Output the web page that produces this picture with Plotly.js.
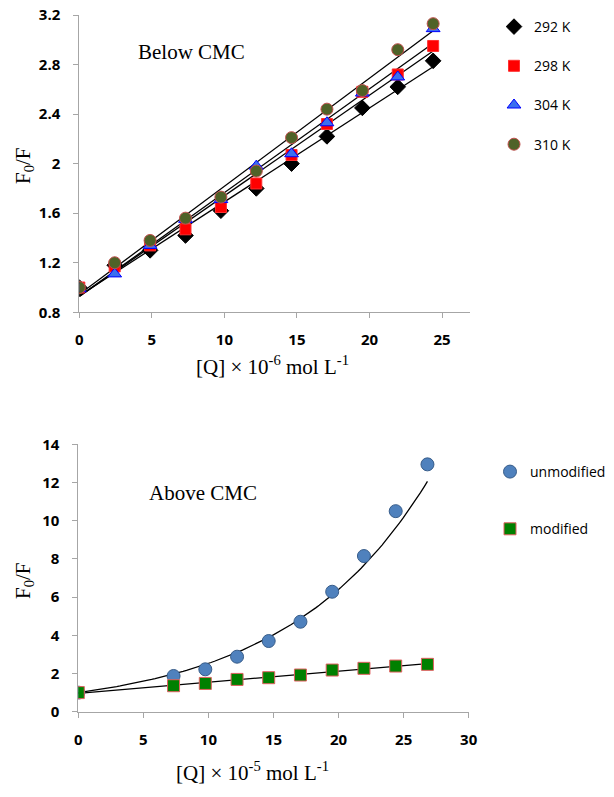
<!DOCTYPE html>
<html><head><meta charset="utf-8">
<script src="https://cdn.plot.ly/plotly-3.0.1.min.js"></script>
<style>body{margin:0;padding:0;background:#fff}#chart{width:614px;height:797px}</style>
</head><body><div id="chart"></div>
<script>
// ---- Top panel: below CMC ----
const xBelow = [0, 2.44, 4.88, 7.32, 9.76, 12.2, 14.63, 17.07, 19.51, 21.95, 24.39];
const y292 = [1.00, 1.18, 1.30, 1.42, 1.62, 1.80, 2.00, 2.22, 2.45, 2.62, 2.83];
const y298 = [1.00, 1.17, 1.34, 1.47, 1.65, 1.84, 2.07, 2.32, 2.58, 2.72, 2.95];
const y304 = [0.99, 1.11, 1.34, 1.55, 1.71, 1.98, 2.08, 2.33, 2.57, 2.70, 3.09];
const y310 = [1.00, 1.20, 1.38, 1.56, 1.73, 1.94, 2.21, 2.44, 2.59, 2.92, 3.13];
const seriesNamesTop = ['292 K', '298 K', '304 K', '310 K'];
const yTickTop = [0.8, 1.2, 1.6, 2, 2.4, 2.8, 3.2];
const xTickTop = [0, 5, 10, 15, 20, 25];

// ---- Bottom panel: above CMC ----
const xAbove = [0, 7.32, 9.76, 12.2, 14.63, 17.07, 19.51, 21.95, 24.39, 26.83];
const yUnmod = [1.00, 1.87, 2.22, 2.88, 3.70, 4.71, 6.28, 8.15, 10.50, 12.95];
const yMod   = [1.00, 1.36, 1.48, 1.69, 1.78, 1.92, 2.18, 2.27, 2.39, 2.48];
const seriesNamesBottom = ['unmodified', 'modified'];
const yTickBottom = [0, 2, 4, 6, 8, 10, 12, 14];
const xTickBottom = [0, 5, 10, 15, 20, 25, 30];
// exponential trendline of the unmodified series as shown in the figure: y = A·exp(B·x)
const unmodTrendA = 1.0;
const unmodTrendB = 0.0928;

function linfit(x, y) {
  const n = x.length; let sx=0, sy=0, sxx=0, sxy=0;
  for (let i=0;i<n;i++){sx+=x[i];sy+=y[i];sxx+=x[i]*x[i];sxy+=x[i]*y[i];}
  const b=(n*sxy-sx*sy)/(n*sxx-sx*sx); const a=(sy-b*sx)/n; return [a,b];
}

const tickFont = {family: 'Open Sans, sans-serif', size: 15, color: '#000', weight: 'bold'};
const legFont = {family: 'Open Sans, sans-serif', size: 14, color: '#000'};
const serif = 'Liberation Serif, Times New Roman, serif';

const topStyles = [
  {symbol: 'diamond', color: '#000000', line: {color: '#000000', width: 1}, size: 12},
  {symbol: 'square', color: '#ff0000', line: {color: '#ff3030', width: 1}, size: 11},
  {symbol: 'triangle-up', color: '#3a6ff0', line: {color: '#0000ff', width: 1}, size: 12},
  {symbol: 'circle', color: '#4f6228', line: {color: '#c0504d', width: 1}, size: 12}
];
const topY = [y292, y298, y304, y310];
const traces = [];
topY.forEach((ys) => {
  const [a,b] = linfit(xBelow, ys);
  const x0 = Math.min(...xBelow), x1 = Math.max(...xBelow);
  traces.push({x:[x0,x1], y:[a+b*x0, a+b*x1], mode:'lines', line:{color:'#000', width:1.3},
    xaxis:'x', yaxis:'y', showlegend:false, hoverinfo:'skip'});
});
topY.forEach((ys, i) => {
  traces.push({x: xBelow, y: ys, mode:'markers', name: seriesNamesTop[i], legend:'legend',
    legendgroup:'t'+i, marker: topStyles[i], xaxis:'x', yaxis:'y'});
});
(function(){
  const xs=[], ys=[]; const x0=Math.min(...xAbove), x1=Math.max(...xAbove);
  for (let k=0;k<=100;k++){const xv=x0+(x1-x0)*k/100; xs.push(xv); ys.push(unmodTrendA*Math.exp(unmodTrendB*xv));}
  traces.push({x:xs, y:ys, mode:'lines', line:{color:'#000', width:1.3}, xaxis:'x2', yaxis:'y2', showlegend:false, hoverinfo:'skip'});
  const [a,b] = linfit(xAbove, yMod);
  traces.push({x:[x0,x1], y:[a+b*x0,a+b*x1], mode:'lines', line:{color:'#000', width:1.3}, xaxis:'x2', yaxis:'y2', showlegend:false, hoverinfo:'skip'});
})();
traces.push({x:xAbove, y:yUnmod, mode:'markers', name:seriesNamesBottom[0], legend:'legend2', legendgroup:'b0',
  marker:{symbol:'circle', size:13, color:'#4f81bd', line:{color:'#385d8a', width:1}}, xaxis:'x2', yaxis:'y2'});
traces.push({x:xAbove, y:yMod, mode:'markers', name:seriesNamesBottom[1], legend:'legend2', legendgroup:'b1',
  marker:{symbol:'square', size:12, color:'#008000', line:{color:'#e06060', width:1}}, xaxis:'x2', yaxis:'y2'});

const axisBase = {showline:true, linecolor:'#a6a6a6', linewidth:1, ticks:'outside', ticklen:5, tickcolor:'#a6a6a6',
  showgrid:false, zeroline:false, tickfont: tickFont, fixedrange:true};

const W=614, H=797;
const ann = (text, x, y, size, angle) => ({text, x:x/W, y:1-y/H, xref:'paper', yref:'paper', showarrow:false,
  xanchor:'center', yanchor:'middle', textangle: angle||0, font:{family:serif, size, color:'#000'}});
const layout = {
  width: W, height: H, margin:{l:0,r:0,t:0,b:0}, paper_bgcolor:'#fff', plot_bgcolor:'#fff',
  xaxis: Object.assign({}, axisBase, {domain:[79.3/W, 470/W], range:[0, 26.93], tickvals: xTickTop, ticklabelstandoff: 9, anchor:'y'}),
  yaxis: Object.assign({}, axisBase, {domain:[1-312.3/H, 1-15/H], range:[0.8, 3.2], tickvals: yTickTop, ticklabelstandoff: 10, anchor:'x'}),
  xaxis2: Object.assign({}, axisBase, {domain:[78.3/W, 468.7/W], range:[0, 30], tickvals: xTickBottom, ticklabelstandoff: 9, anchor:'y2'}),
  yaxis2: Object.assign({}, axisBase, {domain:[1-711.7/H, 1-444.3/H], range:[0, 14], tickvals: yTickBottom, ticklabelstandoff: 10, anchor:'x2'}),
  legend: {x: 494/W, y: 1-11/H, xanchor:'left', yanchor:'top', bgcolor:'rgba(0,0,0,0)', traceorder:'grouped', tracegroupgap: 18,
    font: legFont},
  legend2: {x: 490/W, y: 1-456/H, xanchor:'left', yanchor:'top', bgcolor:'rgba(0,0,0,0)', traceorder:'grouped', tracegroupgap: 36,
    itemwidth: 30, font: legFont},
  showlegend: true,
  annotations: [
    ann('Below CMC', 191, 52, 21),
    ann('Above CMC', 203, 493, 21),
    ann('F<sub>0</sub>/F', 24, 165, 21, -90),
    ann('F<sub>0</sub>/F', 24, 580, 21, -90),
    ann('[Q] × 10<sup>-6</sup> mol L<sup>-1</sup>', 272, 365, 21),
    ann('[Q] × 10<sup>-5</sup> mol L<sup>-1</sup>', 252, 771, 21)
  ]
};
Plotly.newPlot('chart', traces, layout, {displayModeBar:false, staticPlot:true});
</script></body></html>
